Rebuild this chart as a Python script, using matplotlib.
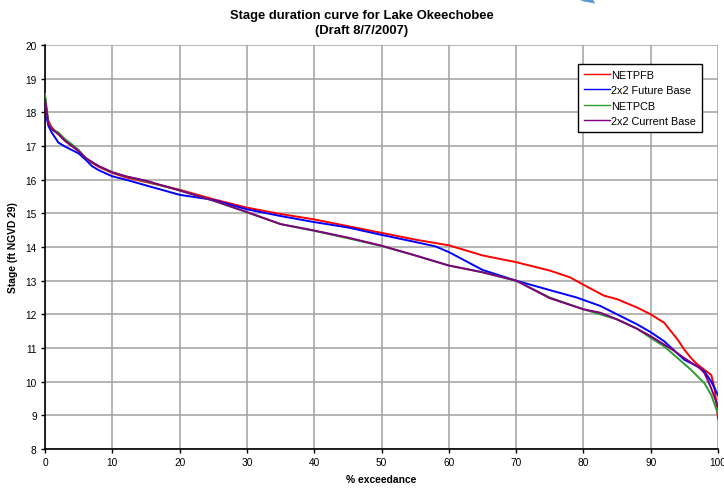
import matplotlib
matplotlib.use("Agg")
import matplotlib.pyplot as plt
from matplotlib.patches import Polygon

plt.rcParams['font.family'] = ['Liberation Sans', 'DejaVu Sans']

# % exceedance and stage (ft NGVD 29) for each scenario
x_netpfb = [0, 0.5, 1, 2, 3, 4, 5, 6, 7, 8, 10, 12, 15, 20, 25, 30, 35, 40, 45, 50, 55, 60, 65, 70, 75, 78, 80, 83, 85, 88, 90, 92, 94, 95, 96, 97, 98, 99, 99.5, 100]
y_netpfb = [18.3, 17.75, 17.55, 17.35, 17.15, 17.0, 16.85, 16.65, 16.5, 16.38, 16.2, 16.07, 15.93, 15.7, 15.42, 15.17, 14.98, 14.82, 14.62, 14.42, 14.22, 14.05, 13.75, 13.55, 13.3, 13.1, 12.88, 12.56, 12.45, 12.2, 12.0, 11.75, 11.25, 10.95, 10.7, 10.5, 10.35, 10.2, 9.8, 8.9]

x_future = [0, 0.5, 1, 2, 3, 4, 5, 6, 7, 8, 10, 12, 15, 20, 25, 30, 35, 40, 45, 50, 55, 58, 60, 65, 70, 75, 79, 82.5, 85, 88, 90, 92, 95, 97, 98, 99, 100]
y_future = [18.1, 17.6, 17.4, 17.1, 16.98, 16.88, 16.78, 16.6, 16.4, 16.28, 16.1, 16.0, 15.83, 15.55, 15.4, 15.12, 14.92, 14.74, 14.58, 14.36, 14.15, 14.02, 13.85, 13.32, 13.0, 12.72, 12.5, 12.25, 12.0, 11.7, 11.47, 11.2, 10.65, 10.45, 10.3, 10.0, 9.6]

x_netpcb = [0, 0.5, 1, 2, 3, 4, 5, 6, 7, 8, 10, 12, 15, 20, 25, 30, 35, 40, 45, 50, 55, 60, 65, 70, 75, 80, 85, 88, 90, 92, 94, 96, 97, 98, 99, 100]
y_netpcb = [18.55, 17.7, 17.5, 17.4, 17.2, 17.05, 16.88, 16.65, 16.52, 16.4, 16.22, 16.1, 15.95, 15.68, 15.38, 15.03, 14.68, 14.48, 14.26, 14.03, 13.75, 13.45, 13.25, 13.0, 12.5, 12.15, 11.85, 11.57, 11.3, 11.05, 10.7, 10.35, 10.15, 9.95, 9.6, 9.05]

x_current = [0, 0.5, 1, 2, 3, 4, 5, 6, 7, 8, 10, 12, 15, 20, 25, 30, 35, 40, 45, 50, 55, 60, 65, 70, 75, 80, 82.5, 85, 88, 90, 93, 95, 97.3, 98, 99, 100]
y_current = [18.4, 17.65, 17.5, 17.35, 17.15, 17.0, 16.85, 16.65, 16.52, 16.4, 16.22, 16.1, 15.97, 15.68, 15.38, 15.04, 14.68, 14.49, 14.28, 14.04, 13.75, 13.45, 13.25, 13.0, 12.48, 12.15, 12.05, 11.85, 11.57, 11.35, 10.98, 10.7, 10.4, 10.25, 9.8, 9.26]

labels = ["NETPFB", "2x2 Future Base", "NETPCB", "2x2 Current Base"]
x_ticks = [0, 10, 20, 30, 40, 50, 60, 70, 80, 90, 100]
y_ticks = [8, 9, 10, 11, 12, 13, 14, 15, 16, 17, 18, 19, 20]

fig = plt.figure(figsize=(7.24, 4.89), dpi=100)
ax = fig.add_axes([45/724, 1-450/489, (718-45)/724, (450-46)/489])

ax.plot(x_netpfb, y_netpfb, color='#FF0000', lw=1.4, label=labels[0], zorder=3)
ax.plot(x_future, y_future, color='#0000FF', lw=1.4, label=labels[1], zorder=3)
ax.plot(x_netpcb, y_netpcb, color='#2E9B2E', lw=1.4, label=labels[2], zorder=3)
ax.plot(x_current, y_current, color='#800080', lw=1.4, label=labels[3], zorder=4)

ax.set_xlim(0, 100)
ax.set_ylim(8, 20)
ax.set_xticks(x_ticks)
ax.set_yticks(y_ticks)
ax.grid(True, color='#A0A0A0', lw=1.1, zorder=0)
ax.set_axisbelow(True)
for s in ['top', 'right']:
    ax.spines[s].set_visible(False)
for s in ['left', 'bottom']:
    ax.spines[s].set_color('black')
    ax.spines[s].set_linewidth(1.2)
ax.tick_params(axis='both', labelsize=7.3, length=3, width=1, pad=3, direction='out')

ax.set_xlabel("% exceedance", fontsize=7.4, fontweight='bold', labelpad=5)
ax.set_ylabel("Stage (ft NGVD 29)", fontsize=7.4, fontweight='bold', labelpad=5)

fig.text(0.5, 1-16/489, "Stage duration curve for Lake Okeechobee", ha='center', va='center',
         fontsize=9.4, fontweight='bold')
fig.text(0.5, 1-31/489, "(Draft 8/7/2007)", ha='center', va='center',
         fontsize=9.4, fontweight='bold')

leg = ax.legend(loc='upper right', bbox_to_anchor=(707/724, 1-60/489),
                bbox_transform=fig.transFigure, fontsize=7.8, handlelength=2.4,
                handletextpad=0.15, labelspacing=0.5, borderpad=0.5,
                fancybox=False, framealpha=1, edgecolor='black')
leg.get_frame().set_linewidth(1.0)
for ln in leg.get_lines():
    ln.set_linewidth(1.0)

# decorative arrow tip at the top edge
fig.patches.append(Polygon([[577/724, 1.0], [593/724, 1.0], [595/724, 1-4.5/489], [584/724, 1-2.5/489]],
                           closed=True, transform=fig.transFigure, facecolor='#5B9BD5',
                           edgecolor='none'))

fig.savefig("out.png", dpi=100)
